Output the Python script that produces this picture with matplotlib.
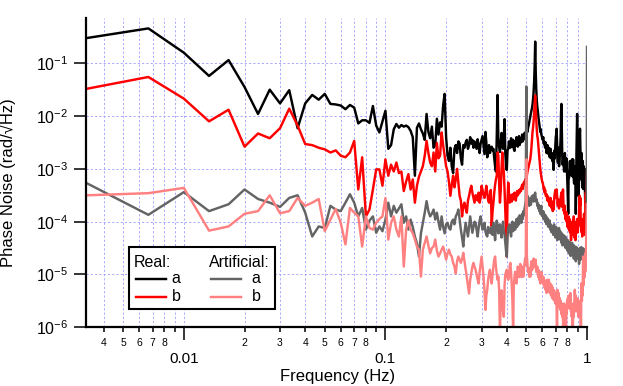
import numpy as np
import matplotlib
matplotlib.use("Agg")
import matplotlib.pyplot as plt
from matplotlib.ticker import LogLocator, FuncFormatter, NullLocator
from matplotlib.patches import Rectangle
from matplotlib.lines import Line2D

plt.rcParams['font.family'] = ['Liberation Sans', 'DejaVu Sans']
plt.rcParams['mathtext.fontset'] = 'custom'
plt.rcParams['mathtext.rm'] = 'Liberation Sans'
plt.rcParams['mathtext.default'] = 'rm'

# frequency bins, 1/300 Hz apart, up to 1 Hz
freq = np.arange(1, 301) / 300.0

# values, stored as log10(rad/sqrt(Hz))
real_a_exp = [
    -0.52, -0.34, -0.80, -1.24, -0.94, -1.45, -1.96, -1.50, -1.76, -1.51,
    -2.23, -1.76, -1.60, -1.69, -1.58, -1.77, -1.78, -1.80, -1.87, -1.79,
    -1.84, -2.14, -2.08, -2.08, -2.13, -1.81, -2.18, -2.31, -2.10, -1.90,
    -2.62, -2.55, -2.25, -2.15, -2.22, -2.17, -2.20, -2.18, -2.21, -2.28,
    -2.40, -3.13, -2.22, -2.14, -2.25, -2.33, -2.45, -1.96, -2.30, -2.42,
    -2.20, -2.60, -2.55, -2.05, -2.35, -2.12, -2.20, -1.80, -1.58, -2.40,
    -2.75, -2.85, -2.60, -2.95, -3.08, -2.62, -2.55, -2.70, -2.48, -2.52,
    -2.80, -2.92, -2.55, -2.60, -2.50, -2.45, -2.62, -2.55, -2.40, -2.52,
    -2.45, -2.60, -2.48, -2.55, -2.62, -2.44, -2.58, -2.70, -2.52, -2.45,
    -2.38, -2.55, -2.72, -2.30, -2.50, -2.78, -2.60, -2.55, -2.70, -2.62,
    -2.58, -2.65, -2.62, -2.80, -2.95, -3.05, -2.40, -1.60, -2.45, -2.60,
    -2.68, -2.50, -2.32, -2.55, -2.62, -2.40, -2.06, -2.70, -2.95, -3.02,
    -2.65, -2.62, -2.48, -2.55, -2.60, -2.42, -2.50, -2.58, -2.45, -2.62,
    -2.66, -2.48, -2.55, -2.40, -2.52, -2.58, -2.45, -2.38, -2.55, -2.42,
    -2.50, -2.46, -2.35, -2.48, -2.40, -2.44, -2.32, -2.42, -2.30, -2.36,
    -2.25, -2.30, -2.22, -2.18, -2.12, -2.05, -2.00, -1.95, -1.90, -1.85,
    -1.78, -1.68, -1.55, -1.35, -1.05, -0.59, -1.15, -1.48, -1.70, -1.82,
    -1.90, -2.00, -2.08, -2.15, -2.22, -2.30, -2.25, -2.35, -2.38, -2.42,
    -2.45, -2.40, -2.52, -2.48, -2.55, -2.60, -2.50, -2.58, -2.70, -2.62,
    -2.55, -2.68, -2.72, -2.60, -2.65, -2.78, -2.70, -2.62, -2.80, -2.75,
    -2.70, -2.85, -2.78, -2.92, -3.02, -2.75, -2.65, -2.80, -2.55, -2.40,
    -2.35, -2.24, -2.50, -2.70, -2.88, -2.78, -2.60, -2.95, -2.85, -2.70,
    -2.62, -2.40, -1.95, -1.77, -2.30, -2.70, -2.92, -2.88, -2.78, -2.95,
    -3.05, -2.85, -2.70, -2.90, -3.00, -3.05, -2.80, -2.95, -3.10, -3.30,
    -3.55, -3.85, -3.20, -3.18, -3.13, -2.90, -2.85, -3.00, -2.88, -3.12,
    -3.05, -2.95, -2.82, -2.90, -3.15, -2.82, -3.00, -3.20, -3.28, -3.10,
    -2.95, -3.22, -3.26, -3.85, -3.40, -2.70, -2.30, -1.96, -2.40, -3.00,
    -3.30, -3.51, -3.36, -2.90, -2.60, -2.35, -2.24, -2.60, -3.00, -3.20,
    -2.92, -2.70, -3.05, -3.35, -3.10, -2.85, -3.38, -3.15, -2.95, -3.20,
    -3.05, -3.30, -3.40, -3.65, -3.00, -3.25, -3.35, -3.05, -3.20, -3.26,
]

real_b_exp = [
    -1.48, -1.26, -1.67, -2.10, -1.88, -2.58, -2.33, -2.42, -2.23, -1.86,
    -2.18, -2.53, -2.55, -2.60, -2.63, -2.69, -2.65, -2.75, -2.78, -2.69,
    -2.47, -3.39, -2.78, -3.90, -3.77, -3.39, -3.01, -3.01, -3.32, -2.82,
    -3.13, -2.92, -3.05, -2.88, -3.08, -3.05, -3.42, -3.24, -3.10, -3.39,
    -3.20, -3.64, -3.32, -3.15, -3.05, -2.95, -2.75, -2.47, -2.70, -2.88,
    -2.95, -2.69, -3.05, -2.51, -2.80, -2.75, -2.31, -2.55, -2.75, -2.95,
    -3.05, -3.25, -3.51, -3.30, -3.13, -3.35, -3.20, -3.00, -3.25, -3.51,
    -3.60, -3.90, -3.70, -3.64, -3.75, -3.83, -3.60, -3.51, -3.40, -3.32,
    -3.45, -3.55, -3.64, -3.50, -3.51, -3.60, -3.45, -3.64, -3.55, -3.32,
    -3.40, -3.50, -3.55, -3.45, -3.32, -3.45, -3.60, -3.64, -3.50, -3.40,
    -4.09, -3.80, -3.64, -3.45, -3.30, -3.20, -3.13, -2.69, -2.75, -3.30,
    -3.64, -3.40, -3.00, -2.69, -2.90, -3.07, -3.40, -3.80, -4.20, -4.66,
    -3.60, -3.26, -3.45, -3.64, -3.50, -3.55, -3.62, -3.48, -3.58, -3.52,
    -3.45, -3.55, -3.60, -3.51, -3.42, -3.50, -3.48, -3.40, -3.45, -3.38,
    -3.42, -3.35, -3.30, -3.38, -3.32, -3.25, -3.28, -3.20, -3.22, -3.19,
    -3.12, -3.05, -3.00, -2.95, -2.90, -2.85, -2.81, -2.72, -2.60, -2.45,
    -2.30, -2.22, -2.10, -1.95, -1.78, -1.61, -1.85, -2.05, -2.25, -2.38,
    -2.43, -2.55, -2.68, -2.80, -2.92, -3.01, -3.08, -3.15, -3.20, -3.25,
    -3.26, -3.32, -3.38, -3.35, -3.45, -3.40, -3.50, -3.51, -3.48, -3.55,
    -3.60, -3.52, -3.58, -3.64, -3.62, -3.70, -3.64, -3.55, -3.72, -3.68,
    -3.75, -3.62, -3.80, -3.70, -3.77, -3.60, -3.50, -3.45, -3.40, -3.55,
    -3.48, -3.39, -3.50, -3.62, -3.70, -3.58, -3.66, -3.75, -3.60, -3.70,
    -3.64, -3.55, -3.50, -3.45, -3.60, -3.72, -3.55, -3.39, -3.62, -3.80,
    -3.75, -3.85, -3.70, -3.95, -3.88, -3.90, -3.82, -4.00, -3.92, -4.10,
    -3.95, -4.05, -3.90, -4.15, -4.03, -3.95, -4.20, -4.00, -4.12, -4.35,
    -4.05, -4.18, -4.15, -4.00, -4.25, -3.98, -4.10, -3.90, -4.20, -4.30,
    -4.05, -4.15, -4.35, -4.10, -4.22, -4.00, -4.18, -3.95, -4.05, -4.20,
    -4.10, -3.95, -4.05, -3.80, -3.65, -3.51, -3.70, -3.55, -3.90, -4.10,
    -4.00, -4.20, -4.05, -4.28, -4.15, -3.95, -4.20, -4.10, -4.00, -3.85,
    -3.95, -4.10, -4.25, -3.90, -3.60, -3.45, -3.75, -4.05, -3.50, -3.05,
]

art_a_exp = [
    -3.28, -3.87, -3.44, -3.80, -3.67, -3.39, -3.57, -3.64, -3.72, -3.55,
    -3.50, -3.83, -4.28, -4.09, -4.12, -3.70, -3.77, -3.80, -3.64, -3.48,
    -3.64, -3.90, -3.74, -4.15, -3.98, -3.90, -4.21, -4.09, -4.18, -3.96,
    -3.64, -3.90, -3.70, -3.83, -3.75, -3.67, -4.02, -3.90, -4.15, -3.96,
    -4.10, -4.28, -4.41, -4.66, -4.22, -4.02, -3.83, -3.61, -3.80, -3.90,
    -3.85, -3.77, -3.96, -3.83, -4.00, -4.15, -3.90, -4.10, -4.22, -4.05,
    -4.02, -4.12, -4.15, -4.00, -3.96, -4.05, -3.90, -3.85, -3.77, -3.95,
    -4.15, -4.30, -4.47, -4.20, -4.02, -4.15, -4.28, -4.10, -3.90, -4.05,
    -4.21, -4.10, -4.00, -4.02, -4.15, -4.28, -4.12, -3.98, -3.90, -4.05,
    -4.15, -4.08, -4.02, -4.18, -4.25, -4.28, -4.10, -4.20, -4.15, -4.22,
    -4.10, -4.25, -4.02, -4.18, -4.35, -4.12, -3.98, -4.08, -4.22, -4.15,
    -4.05, -4.20, -4.30, -4.12, -4.00, -4.18, -4.25, -4.40, -4.55, -4.66,
    -4.30, -4.10, -4.20, -4.05, -4.15, -4.28, -4.10, -4.00, -4.18, -4.12,
    -4.02, -4.15, -4.08, -3.95, -4.10, -4.00, -3.92, -4.05, -3.88, -3.98,
    -3.90, -4.02, -3.85, -3.95, -3.80, -3.88, -3.75, -3.70, -3.60, -1.44,
    -3.55, -3.51, -3.65, -3.58, -3.70, -3.62, -3.55, -3.68, -3.60, -3.52,
    -3.58, -3.50, -3.62, -3.55, -3.48, -3.45, -3.55, -3.62, -3.58, -3.70,
    -3.65, -3.75, -3.68, -3.80, -3.72, -3.85, -3.78, -3.70, -3.88, -3.82,
    -3.90, -3.80, -3.95, -3.85, -3.92, -4.00, -3.88, -3.96, -4.05, -3.92,
    -4.02, -3.95, -4.10, -4.00, -4.08, -3.98, -4.15, -4.05, -4.12, -4.20,
    -4.08, -4.18, -4.10, -4.25, -4.15, -4.05, -4.22, -4.12, -4.30, -4.18,
    -4.10, -4.25, -4.20, -4.35, -4.15, -4.28, -4.22, -4.12, -4.30, -4.25,
    -4.18, -4.35, -4.28, -4.40, -4.22, -4.32, -4.45, -4.30, -4.25, -4.38,
    -4.30, -4.42, -4.35, -4.28, -4.50, -4.38, -4.32, -4.45, -4.40, -4.55,
    -4.35, -4.48, -4.40, -4.60, -4.45, -4.38, -4.52, -4.42, -4.65, -4.50,
    -4.45, -4.58, -4.40, -4.52, -4.62, -4.48, -4.55, -4.70, -4.45, -4.58,
    -4.50, -4.62, -4.53, -4.75, -4.58, -4.48, -4.66, -4.55, -4.70, -4.60,
    -4.52, -4.66, -4.58, -4.80, -4.62, -4.50, -4.68, -4.55, -4.72, -4.60,
    -4.48, -4.65, -4.55, -4.70, -4.62, -4.50, -4.66, -4.58, -4.75, -4.55,
    -4.60, -4.68, -4.52, -4.70, -4.62, -4.55, -4.66, -4.45, -4.50, -0.69,
]

art_b_exp = [
    -3.50, -3.46, -3.36, -4.17, -4.09, -3.85, -3.80, -3.50, -3.84, -3.80,
    -3.55, -3.70, -3.64, -3.57, -4.18, -3.96, -3.76, -4.02, -4.43, -3.74,
    -3.83, -3.90, -4.47, -3.90, -4.12, -4.15, -4.02, -3.95, -3.90, -3.55,
    -4.34, -4.02, -3.90, -4.15, -4.28, -3.90, -4.85, -4.15, -3.98, -4.15,
    -4.22, -4.34, -4.47, -4.53, -5.04, -4.53, -4.40, -4.28, -4.45, -4.60,
    -4.50, -4.47, -4.34, -4.55, -4.66, -4.60, -4.53, -4.47, -4.58, -4.72,
    -4.60, -4.53, -4.62, -4.66, -4.78, -4.85, -4.98, -4.75, -4.66, -4.72,
    -4.78, -4.70, -4.59, -4.75, -4.91, -5.05, -5.20, -5.36, -5.10, -4.98,
    -4.85, -4.78, -4.85, -4.91, -5.00, -5.10, -5.17, -4.95, -4.80, -4.66,
    -4.85, -5.04, -5.30, -5.67, -5.40, -5.29, -5.10, -4.98, -4.91, -5.05,
    -5.17, -5.00, -4.85, -4.72, -4.66, -4.85, -5.00, -5.10, -5.04, -5.30,
    -6.10, -5.48, -5.30, -5.55, -5.70, -5.80, -5.20, -5.00, -4.95, -4.91,
    -5.05, -5.10, -5.04, -4.85, -4.78, -4.95, -5.20, -5.50, -6.10, -5.20,
    -5.05, -4.95, -5.10, -5.17, -5.00, -4.85, -4.90, -5.05, -4.95, -4.80,
    -4.92, -5.05, -4.85, -4.95, -5.04, -4.90, -4.78, -4.70, -4.82, -2.82,
    -4.66, -4.80, -4.95, -4.90, -5.04, -4.88, -5.04, -4.85, -4.75, -4.92,
    -4.78, -4.88, -4.70, -4.78, -4.85, -4.80, -4.72, -4.95, -4.91, -4.85,
    -4.98, -5.05, -4.92, -5.10, -5.00, -5.17, -5.05, -4.95, -5.12, -5.04,
    -5.15, -5.04, -5.20, -5.10, -5.25, -5.15, -5.29, -5.20, -5.35, -5.10,
    -5.25, -5.17, -5.30, -5.10, -5.22, -5.35, -5.17, -5.28, -5.40, -5.20,
    -5.30, -5.45, -5.25, -5.40, -5.48, -5.30, -5.50, -5.35, -5.55, -5.38,
    -5.45, -5.60, -6.20, -5.29, -5.40, -5.55, -5.35, -5.50, -5.62, -5.45,
    -5.67, -5.50, -5.60, -5.75, -5.55, -5.80, -5.62, -5.80, -6.30, -5.70,
    -5.55, -5.75, -5.65, -5.85, -5.70, -6.20, -5.60, -5.75, -5.50, -5.62,
    -5.45, -5.58, -5.40, -5.55, -5.48, -5.65, -5.50, -5.35, -5.60, -5.70,
    -5.55, -5.80, -5.65, -5.90, -6.25, -5.70, -5.55, -5.80, -5.60, -5.45,
    -5.29, -5.45, -5.60, -5.40, -5.55, -5.70, -5.50, -5.62, -5.45, -5.58,
    -5.72, -5.80, -5.55, -5.65, -5.50, -5.62, -5.75, -5.58, -5.90, -6.30,
    -5.17, -5.35, -5.50, -5.25, -5.40, -5.10, -4.66, -5.00, -5.20, -4.90,
    -4.80, -5.05, -4.70, -4.95, -4.60, -4.85, -4.40, -4.20, -3.90, -3.67,
]

for s in (real_a_exp, real_b_exp, art_a_exp, art_b_exp):
    assert len(s) == len(freq), len(s)

real_a = 10.0 ** np.array(real_a_exp)
real_b = 10.0 ** np.array(real_b_exp)
art_a = 10.0 ** np.array(art_a_exp)
art_b = 10.0 ** np.array(art_b_exp)

c_real_a = '#000000'
c_real_b = '#ff0000'
c_art_a = '#646464'
c_art_b = '#ff8080'

W, H = 623, 386
fig = plt.figure(figsize=(W / 100, H / 100), dpi=100)
ax_l, ax_r, ax_t, ax_b = 86, 587, 18.3, 327.3
ax = fig.add_axes([ax_l / W, 1 - ax_b / H, (ax_r - ax_l) / W, (ax_b - ax_t) / H])

lw = 1.75
ax.plot(freq, real_a, color=c_real_a, lw=lw)
ax.plot(freq, real_b, color=c_real_b, lw=lw)
ax.plot(freq, art_a, color=c_art_a, lw=lw)
ax.plot(freq, art_b, color=c_art_b, lw=lw)

ax.set_xscale('log')
ax.set_yscale('log')
ax.set_xlim(0.00327, 1.0)
ax.set_ylim(1e-6, 0.71)

# ticks
ax.xaxis.set_major_locator(LogLocator(base=10, numticks=10))
ax.xaxis.set_minor_locator(LogLocator(base=10, subs=np.arange(2, 10), numticks=30))

def major_fmt(v, pos):
    return '%g' % v

def minor_fmt(v, pos):
    m = int(round(v / 10 ** np.floor(np.log10(v) + 1e-9)))
    return str(m) if m <= 8 else ''

ax.xaxis.set_major_formatter(FuncFormatter(major_fmt))
ax.xaxis.set_minor_formatter(FuncFormatter(minor_fmt))

ax.yaxis.set_major_locator(LogLocator(base=10, numticks=10))
ax.yaxis.set_minor_locator(NullLocator())
ax.yaxis.set_major_formatter(FuncFormatter(lambda v, p: r'$10^{%d}$' % round(np.log10(v))))

ax.tick_params(axis='x', which='major', direction='out', length=9, width=1.1,
               labelsize=11, pad=8.5)
ax.tick_params(axis='x', which='minor', direction='out', length=3.8, width=1.1,
               labelsize=7.5, pad=4)
ax.tick_params(axis='y', which='major', direction='out', length=8.6, width=1.1,
               labelsize=11.5, pad=4)

for side in ('top', 'right'):
    ax.spines[side].set_visible(False)
for side in ('left', 'bottom'):
    ax.spines[side].set_linewidth(1.6)

grid_kw = dict(color='#a8a8ff', linestyle=(0, (2.2, 2.2)), linewidth=0.7)
ax.grid(True, which='major', axis='both', **grid_kw)
ax.grid(True, which='minor', axis='x', **grid_kw)
ax.set_axisbelow(True)

ax.set_xlabel('Frequency (Hz)', fontsize=12)
ax.xaxis.set_label_coords((338 - ax_l) / (ax_r - ax_l), (ax_b - 369.5) / (ax_b - ax_t))
ax.set_ylabel('Phase Noise (rad/\u221aHz)', fontsize=12)
ax.yaxis.set_label_coords((16 - ax_l) / (ax_r - ax_l), (ax_b - 183) / (ax_b - ax_t))

# legend box drawn by hand (two titled columns)
def px(x, y):
    return (x - ax_l) / (ax_r - ax_l), (ax_b - y) / (ax_b - ax_t)

x0, y0 = px(128.5, 309.3)
x1, y1 = px(275, 247.3)
ax.add_patch(Rectangle((x0, y0), x1 - x0, y1 - y0, transform=ax.transAxes,
                       facecolor='white', edgecolor='black', lw=1.5, zorder=5))

leg_fs = 11.5
cols = [
    ('Real:', 134, 135.5, 165.5, 171.5, [(c_real_a, 'a'), (c_real_b, 'b')]),
    ('Artificial:', 209.3, 211, 240.7, 251.7, [(c_art_a, 'a'), (c_art_b, 'b')]),
]
rows_y = [279.3, 296.7]
for title, tx, lx0, lx1, labx, entries in cols:
    ax.text(*px(tx, 267.3), title, transform=ax.transAxes, fontsize=leg_fs,
            va='baseline', ha='left', zorder=6)
    for (col, lab), ry in zip(entries, rows_y):
        (ax0, ay), (ax1, _) = px(lx0, ry), px(lx1, ry)
        ax.add_line(Line2D([ax0, ax1], [ay, ay], transform=ax.transAxes,
                           color=col, lw=lw, zorder=6))
        ax.text(*px(labx, ry + 4), lab, transform=ax.transAxes, fontsize=leg_fs,
                va='baseline', ha='left', zorder=6)

fig.savefig('out.png', dpi=100)
